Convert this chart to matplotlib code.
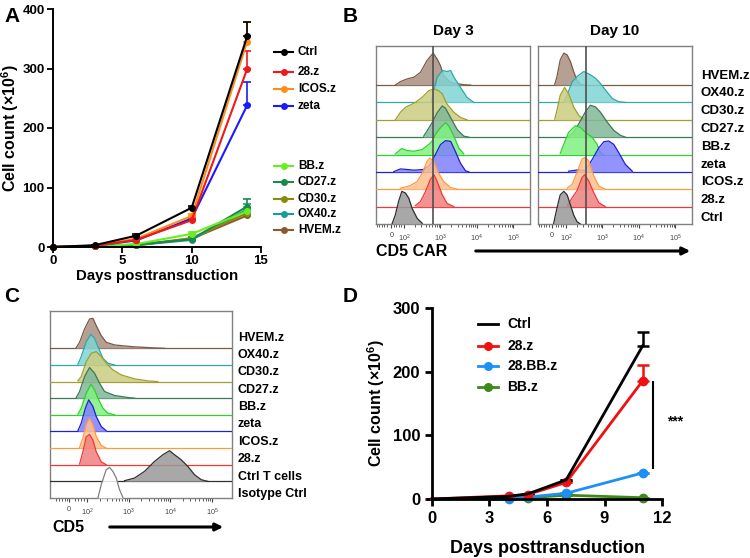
import numpy as np
import matplotlib
matplotlib.use('Agg')
import matplotlib.pyplot as plt
from matplotlib.lines import Line2D
from matplotlib.patches import FancyArrowPatch

plt.rcParams['font.family'] = ['Liberation Sans', 'DejaVu Sans']
plt.rcParams['font.weight'] = 'bold'
plt.rcParams['mathtext.default'] = 'regular'

# --- Panel A: growth curves ---
a_days = [0, 3, 6, 10, 14]
a_names = ['Ctrl', '28.z', 'ICOS.z', 'zeta', 'BB.z', 'CD27.z', 'CD30.z', 'OX40.z', 'HVEM.z']
a_vals = {
    'Ctrl':   [0, 3, 19, 66, 354],
    '28.z':   [0, 2, 12, 45, 299],
    'ICOS.z': [0, 2, 14, 52, 345],
    'zeta':   [0, 2, 11, 48, 238],
    'BB.z':   [0, 1, 5, 22, 60],
    'CD27.z': [0, 1, 4, 13, 68],
    'CD30.z': [0, 1, 3, 15, 57],
    'OX40.z': [0, 1, 3, 12, 63],
    'HVEM.z': [0, 1, 3, 14, 53],
}
a_err = {
    'Ctrl':   [0, 1, 3, 3, 24],
    '28.z':   [0, 0, 2, 3, 30],
    'ICOS.z': [0, 0, 2, 3, 33],
    'zeta':   [0, 0, 2, 3, 40],
    'BB.z':   [0, 0, 1, 4, 8],
    'CD27.z': [0, 0, 1, 2, 13],
    'CD30.z': [0, 0, 1, 2, 8],
    'OX40.z': [0, 0, 1, 2, 10],
    'HVEM.z': [0, 0, 1, 2, 5],
}
a_colors = {
    'Ctrl': '#000000', '28.z': '#f01818', 'ICOS.z': '#ff8c1a', 'zeta': '#1a1aff',
    'BB.z': '#66ee22', 'CD27.z': '#1a8a4a', 'CD30.z': '#8a8a10', 'OX40.z': '#1a9a9a',
    'HVEM.z': '#8b5a2b',
}

# --- Panel B: CD5 CAR histograms (x in display decades, h in row heights) ---
b_rows = ['Ctrl', '28.z', 'ICOS.z', 'zeta', 'BB.z', 'CD27.z', 'CD30.z', 'OX40.z', 'HVEM.z']
day3_x = {
    'HVEM.z': [1.76, 1.90, 2.08, 2.27, 2.45, 2.63, 2.72, 2.80, 2.91, 3.00, 3.09, 3.28, 3.64, 3.83],
    'OX40.z': [2.74, 2.82, 2.91, 3.05, 3.18, 3.28, 3.37, 3.55, 3.73, 3.92],
    'CD30.z': [1.76, 1.90, 2.04, 2.13, 2.31, 2.50, 2.68, 2.82, 2.95, 3.05, 3.18, 3.37, 3.55, 3.73],
    'CD27.z': [2.54, 2.63, 2.77, 2.91, 3.05, 3.14, 3.28, 3.46, 3.64, 3.78],
    'BB.z':   [1.76, 1.94, 2.08, 2.27, 2.50, 2.68, 2.77, 2.86, 3.00, 3.14, 3.23, 3.37, 3.50, 3.64],
    'zeta':   [1.72, 1.90, 2.08, 2.27, 2.54, 2.72, 2.86, 3.00, 3.14, 3.28, 3.41, 3.55, 3.69, 3.78],
    'ICOS.z': [1.90, 2.17, 2.36, 2.50, 2.63, 2.71, 2.82, 2.95, 3.09, 3.28, 3.46],
    '28.z':   [2.31, 2.45, 2.59, 2.72, 2.82, 2.91, 3.05, 3.18, 3.37],
    'Ctrl':   [1.67, 1.76, 1.85, 1.94, 2.04, 2.13, 2.22, 2.36, 2.50],
}
day3_h = {
    'HVEM.z': [0, 0.2, 0.35, 0.45, 0.73, 1.41, 1.64, 1.84, 1.5, 1.12, 0.54, 0.15, 0.02, 0],
    'OX40.z': [0, 0.68, 1.45, 1.84, 1.78, 1.84, 1.45, 0.87, 0.29, 0],
    'CD30.z': [0, 0.43, 0.72, 0.81, 1.0, 1.3, 1.68, 1.78, 1.68, 1.49, 0.91, 0.43, 0.14, 0],
    'CD27.z': [0.06, 0.35, 0.83, 1.41, 1.8, 1.66, 1.12, 0.44, 0.06, 0],
    'BB.z':   [0.04, 0.35, 0.23, 0.19, 0.29, 0.58, 0.77, 1.16, 1.55, 1.84, 1.64, 1.06, 0.39, 0.04],
    'zeta':   [0.02, 0.17, 0.14, 0.1, 0.14, 0.41, 0.99, 1.57, 1.8, 1.76, 1.18, 0.5, 0.06, 0],
    'ICOS.z': [0.06, 0.21, 0.44, 0.93, 1.6, 1.8, 1.6, 0.93, 0.44, 0.1, 0],
    '28.z':   [0.06, 0.29, 0.87, 1.55, 1.84, 1.45, 0.68, 0.19, 0],
    'Ctrl':   [0, 0.52, 1.3, 1.88, 1.78, 1.49, 0.91, 0.33, 0.04],
}
day10_x = {
    'HVEM.z': [1.69, 1.75, 1.84, 1.94, 2.03, 2.12, 2.21, 2.30, 2.39, 2.49],
    'OX40.z': [1.94, 2.03, 2.17, 2.30, 2.49, 2.67, 2.81, 2.94, 3.08, 3.27, 3.45, 3.63],
    'CD30.z': [1.69, 1.75, 1.84, 1.96, 2.07, 2.21, 2.35, 2.49],
    'CD27.z': [2.07, 2.21, 2.35, 2.53, 2.67, 2.81, 2.94, 3.13, 3.31, 3.50, 3.63],
    'BB.z':   [1.84, 1.94, 2.07, 2.26, 2.39, 2.53, 2.72, 2.85, 2.94, 3.04],
    'zeta':   [2.07, 2.35, 2.53, 2.72, 2.90, 3.04, 3.17, 3.31, 3.45, 3.63, 3.82],
    'ICOS.z': [2.03, 2.17, 2.30, 2.44, 2.53, 2.62, 2.76, 2.90, 3.08],
    '28.z':   [2.03, 2.17, 2.30, 2.44, 2.51, 2.62, 2.76, 2.90, 3.08],
    'Ctrl':   [1.66, 1.75, 1.84, 1.94, 2.03, 2.12, 2.21, 2.30, 2.39],
}
day10_h = {
    'HVEM.z': [0.04, 0.48, 1.45, 1.84, 1.74, 1.35, 0.77, 0.29, 0.06, 0],
    'OX40.z': [0.04, 0.43, 1.2, 1.49, 1.78, 1.59, 1.39, 1.1, 0.72, 0.23, 0.04, 0],
    'CD30.z': [0.04, 0.54, 1.41, 1.86, 1.51, 0.74, 0.25, 0.04],
    'CD27.z': [0.04, 0.29, 0.77, 1.45, 1.84, 1.74, 1.45, 0.87, 0.39, 0.1, 0],
    'BB.z':   [0.06, 0.6, 1.28, 1.66, 1.57, 1.28, 0.99, 0.6, 0.12, 0],
    'zeta':   [0.04, 0.12, 0.08, 0.72, 1.39, 1.74, 1.78, 1.59, 1.1, 0.43, 0.04],
    'ICOS.z': [0.06, 0.29, 0.97, 1.74, 1.84, 1.64, 0.77, 0.19, 0],
    '28.z':   [0.04, 0.52, 0.91, 1.68, 1.84, 1.49, 0.81, 0.23, 0],
    'Ctrl':   [0.04, 0.91, 1.68, 1.88, 1.68, 1.1, 0.52, 0.14, 0],
}
day3_gate = 2.80
day10_gate = 2.56

# --- Panel C: CD5 histograms ---
c_rows = ['Isotype Ctrl', 'Ctrl T cells', '28.z', 'ICOS.z', 'zeta', 'BB.z', 'CD27.z',
          'CD30.z', 'OX40.z', 'HVEM.z']
c_x = {
    'HVEM.z': [1.74, 1.82, 1.94, 2.06, 2.14, 2.22, 2.34, 2.46, 2.66, 3.06, 3.62, 3.86],
    'OX40.z': [1.78, 1.86, 1.98, 2.09, 2.18, 2.26, 2.38, 2.50, 2.66],
    'CD30.z': [1.78, 1.86, 1.98, 2.10, 2.22, 2.34, 2.46, 2.62, 2.82, 3.14, 3.46, 3.70],
    'CD27.z': [1.74, 1.82, 1.94, 2.06, 2.18, 2.30, 2.42, 2.66, 2.98, 3.14],
    'BB.z':   [1.78, 1.86, 1.98, 2.09, 2.18, 2.26, 2.38, 2.50, 2.66],
    'zeta':   [1.78, 1.86, 1.96, 2.04, 2.14, 2.22, 2.34, 2.46],
    'ICOS.z': [1.82, 1.90, 1.98, 2.06, 2.14, 2.22, 2.34, 2.46],
    '28.z':   [1.82, 1.90, 1.98, 2.06, 2.14, 2.22, 2.34, 2.46],
    'Ctrl T cells': [2.90, 3.14, 3.38, 3.62, 3.82, 3.98, 4.10, 4.26, 4.42, 4.58, 4.74, 4.90],
    'Isotype Ctrl': [2.26, 2.34, 2.46, 2.54, 2.62, 2.70, 2.78, 2.86],
}
c_h = {
    'HVEM.z': [0.04, 0.36, 1.16, 1.76, 1.8, 1.36, 0.76, 0.36, 0.2, 0.1, 0.02, 0],
    'OX40.z': [0.04, 0.5, 1.4, 1.84, 1.6, 1.1, 0.4, 0.1, 0],
    'CD30.z': [0.04, 0.3, 1.2, 1.7, 1.8, 1.5, 1.1, 0.7, 0.4, 0.16, 0.04, 0],
    'CD27.z': [0.04, 0.4, 1.3, 1.84, 1.5, 0.9, 0.4, 0.16, 0.04, 0],
    'BB.z':   [0.04, 0.4, 1.3, 1.84, 1.5, 1.0, 0.4, 0.1, 0],
    'zeta':   [0.04, 0.5, 1.4, 1.9, 1.5, 0.9, 0.3, 0.04],
    'ICOS.z': [0.04, 0.6, 1.5, 1.8, 1.4, 0.7, 0.16, 0],
    '28.z':   [0.04, 0.78, 1.68, 1.82, 1.48, 0.78, 0.18, 0],
    'Ctrl T cells': [0.04, 0.2, 0.6, 1.2, 1.6, 1.84, 1.6, 1.3, 0.9, 0.4, 0.1, 0],
    'Isotype Ctrl': [0, 0.8, 1.7, 1.84, 1.6, 1.2, 0.5, 0.04],
}

flow_fill = {
    'HVEM.z': '#a89080', 'OX40.z': '#80d4d4', 'CD30.z': '#cccc80', 'CD27.z': '#80b898',
    'BB.z': '#80f080', 'zeta': '#8080ff', 'ICOS.z': '#ffc090', '28.z': '#f08080',
    'Ctrl': '#999999', 'Ctrl T cells': '#999999', 'Isotype Ctrl': '#ffffff',
}
flow_edge = {
    'HVEM.z': '#7a5a48', 'OX40.z': '#30a8a8', 'CD30.z': '#a0a030', 'CD27.z': '#3a7858',
    'BB.z': '#30d030', 'zeta': '#2020d0', 'ICOS.z': '#ff9a40', '28.z': '#f03838',
    'Ctrl': '#303030', 'Ctrl T cells': '#303030', 'Isotype Ctrl': '#808080',
}

# --- Panel D: growth curves ---
d_days = [0, 4, 5, 7, 11]
d_names = ['Ctrl', '28.z', '28.BB.z', 'BB.z']
d_vals = {
    'Ctrl':    [0, 4, 8, 30, 241],
    '28.z':    [0, 5, 7, 26, 186],
    '28.BB.z': [0, 0, 3, 9, 41],
    'BB.z':    [0, 1, 2, 6, 2],
}
d_err = {
    'Ctrl':    [0, 0, 0, 0, 21],
    '28.z':    [0, 0, 0, 0, 25],
    '28.BB.z': [0, 0, 0, 0, 0],
    'BB.z':    [0, 0, 0, 0, 0],
}
d_colors = {'Ctrl': '#000000', '28.z': '#f01010', '28.BB.z': '#1e8ff5', 'BB.z': '#3d8a1a'}


def px(x, y):
    """Pixel position (from top-left) to figure fraction."""
    return x / 750.0, 1 - y / 558.0


def add_axes_px(fig, left, top, right, bottom):
    x0, y1 = px(left, top)
    x1, y0 = px(right, bottom)
    return fig.add_axes([x0, y0, x1 - x0, y1 - y0])


def flow_panel(ax, rows, prof_x, prof_h, xlim, ylim, zero_pos):
    for i, name in enumerate(rows):
        z = 30 - i
        xs = np.array(prof_x[name])
        hs = np.array(prof_h[name])
        ec = flow_edge[name]
        if i > 0:
            ax.plot(xlim, [i, i], color=ec, lw=0.9, zorder=z)
        ax.fill_between(xs, i, i + hs, color=flow_fill[name], alpha=0.85, lw=0, zorder=z)
        ax.plot(xs, i + hs, color=ec, lw=0.9, zorder=z)
    ax.set_xlim(xlim)
    ax.set_ylim(ylim)
    ax.set_yticks([])
    ax.set_xticks([zero_pos, 2, 3, 4, 5])
    ax.set_xticklabels(['0', '$10^2$', '$10^3$', '$10^4$', '$10^5$'], fontweight='normal')
    minors = [1.25, 1.32, 1.39, 1.46, 1.53, 1.72, 1.79, 1.86, 1.93]
    for n in (2, 3, 4):
        minors += [n + np.log10(k) for k in range(2, 10)]
    ax.set_xticks(minors, minor=True)
    ax.tick_params(axis='x', which='major', length=3, width=0.8, labelsize=5.2,
                   colors='#444444', pad=3)
    ax.tick_params(axis='x', which='minor', length=1.8, width=0.6, colors='#444444')
    for s in ax.spines.values():
        s.set_color('#808080')
        s.set_linewidth(1.0)


fig = plt.figure(figsize=(7.5, 5.58), dpi=100)

# ---------------- Panel A ----------------
axA = add_axes_px(fig, 53, 9, 261, 247)
for name in reversed(a_names):
    c = a_colors[name]
    axA.errorbar(a_days, a_vals[name], yerr=[np.zeros(len(a_days)), a_err[name]],
                 fmt='-o', color=c, lw=1.5, ms=4, capsize=3, elinewidth=1.2,
                 capthick=1.2, clip_on=False)
axA.set_xlim(0, 15)
axA.set_ylim(0, 400)
axA.set_xticks([0, 5, 10, 15])
axA.set_yticks([0, 100, 200, 300, 400])
axA.spines['top'].set_visible(False)
axA.spines['right'].set_visible(False)
for s in ('left', 'bottom'):
    axA.spines[s].set_linewidth(1.4)
axA.tick_params(labelsize=9.5, width=1.3, length=4, pad=2)
axA.set_xlabel('Days posttransduction', fontsize=10.8, fontweight='bold', labelpad=1)
axA.set_ylabel('Cell count (×10$^{6}$)', fontsize=11.5, fontweight='bold', labelpad=1)

leg_a_y = [52, 72, 89, 106, 166, 182, 199, 214, 230]
for name, yy in zip(a_names, leg_a_y):
    c = a_colors[name]
    x0, y0 = px(274, yy)
    x1, _ = px(293, yy)
    xm, _ = px(283.5, yy)
    fig.add_artist(Line2D([x0, x1], [y0, y0], color=c, lw=1.5, transform=fig.transFigure))
    fig.add_artist(Line2D([xm], [y0], color=c, marker='o', ms=4, transform=fig.transFigure))
    fig.text(px(298, yy)[0], y0, name, fontsize=8.5, fontweight='bold', va='center', ha='left')

# ---------------- Panel B ----------------
flow_lim_b = (1.23, 5.46)
axB1 = add_axes_px(fig, 376, 46, 530, 224)
axB2 = add_axes_px(fig, 538, 46, 692, 224)
flow_panel(axB1, b_rows, day3_x, day3_h, flow_lim_b, (0, 10.25), 1.65)
flow_panel(axB2, b_rows, day10_x, day10_h, flow_lim_b, (0, 10.25), 1.62)
axB1.axvline(day3_gate, color='#505050', lw=1.2, zorder=50)
axB2.axvline(day10_gate, color='#505050', lw=1.2, zorder=50)
axB1.set_title('Day 3', fontsize=11, fontweight='bold', pad=8)
axB2.set_title('Day 10', fontsize=11, fontweight='bold', pad=8)
for i, name in enumerate(b_rows):
    axB2.text(5.70, i + 0.35 + 0.025 * i, name, fontsize=9.5, fontweight='bold',
              va='center', ha='left', clip_on=False)
fig.text(px(376, 252)[0], px(376, 252)[1], 'CD5 CAR', fontsize=11.5, fontweight='bold',
         va='center', ha='left')
fig.add_artist(FancyArrowPatch(px(473, 251), px(693, 251), transform=fig.transFigure,
                               arrowstyle='-|>', mutation_scale=11, lw=2.2, color='black'))

# ---------------- Panel C ----------------
axC = add_axes_px(fig, 50, 311, 232, 498)
flow_panel(axC, c_rows, c_x, c_h, (1.11, 5.48), (0, 11.24), 1.57)
for i, name in enumerate(c_rows):
    axC.text(5.62, i + 0.24 + 0.045 * i, name, fontsize=9, fontweight='bold',
             va='center', ha='left', clip_on=False)
fig.text(px(52, 527)[0], px(52, 527)[1], 'CD5', fontsize=11.5, fontweight='bold',
         va='center', ha='left')
fig.add_artist(FancyArrowPatch(px(107, 527), px(226, 527), transform=fig.transFigure,
                               arrowstyle='-|>', mutation_scale=11, lw=2.2, color='black'))

# ---------------- Panel D ----------------
axD = add_axes_px(fig, 432, 308, 662, 499)
for name in reversed(d_names):
    c = d_colors[name]
    mk = None if name == 'Ctrl' else 'o'
    axD.errorbar(d_days, d_vals[name], yerr=[np.zeros(len(d_days)), d_err[name]],
                 fmt='-', marker=mk, markevery=[1, 2, 3, 4], color=c, lw=2, ms=6,
                 capsize=4, elinewidth=1.8, capthick=1.8, clip_on=False)
axD.set_xlim(0, 12)
axD.set_ylim(0, 300)
axD.set_xticks([0, 3, 6, 9, 12])
axD.set_yticks([0, 100, 200, 300])
axD.spines['top'].set_visible(False)
axD.spines['right'].set_visible(False)
for s in ('left', 'bottom'):
    axD.spines[s].set_linewidth(2)
axD.tick_params(labelsize=12, width=2, length=5)
axD.set_xlabel('Days posttransduction', fontsize=13, fontweight='bold', labelpad=10)
axD.set_ylabel('Cell count (×10$^{6}$)', fontsize=11.5, fontweight='bold', labelpad=4)
axD.plot([11.53, 11.53], [49, 183], color='black', lw=1.5, clip_on=False)
axD.text(12.7, 121, '***', fontsize=10, fontweight='bold', ha='center', va='center')

leg_d_y = [324, 346, 366, 387]
for name, yy in zip(d_names, leg_d_y):
    c = d_colors[name]
    x0, y0 = px(478, yy)
    x1, _ = px(498, yy)
    xm, _ = px(488, yy)
    fig.add_artist(Line2D([x0, x1], [y0, y0], color=c, lw=2, transform=fig.transFigure))
    if name != 'Ctrl':
        fig.add_artist(Line2D([xm], [y0], color=c, marker='o', ms=5.5, transform=fig.transFigure))
    fig.text(px(507, yy)[0], y0, name, fontsize=10, fontweight='bold', va='center', ha='left')

# panel letters
for letter, (lx, ly) in zip('ABCD', [(4, 16), (343, 16), (4, 296), (343, 296)]):
    fig.text(px(lx, ly)[0], px(lx, ly)[1], letter, fontsize=15, fontweight='bold',
             va='center', ha='left')

fig.savefig('out.png', dpi=100)
